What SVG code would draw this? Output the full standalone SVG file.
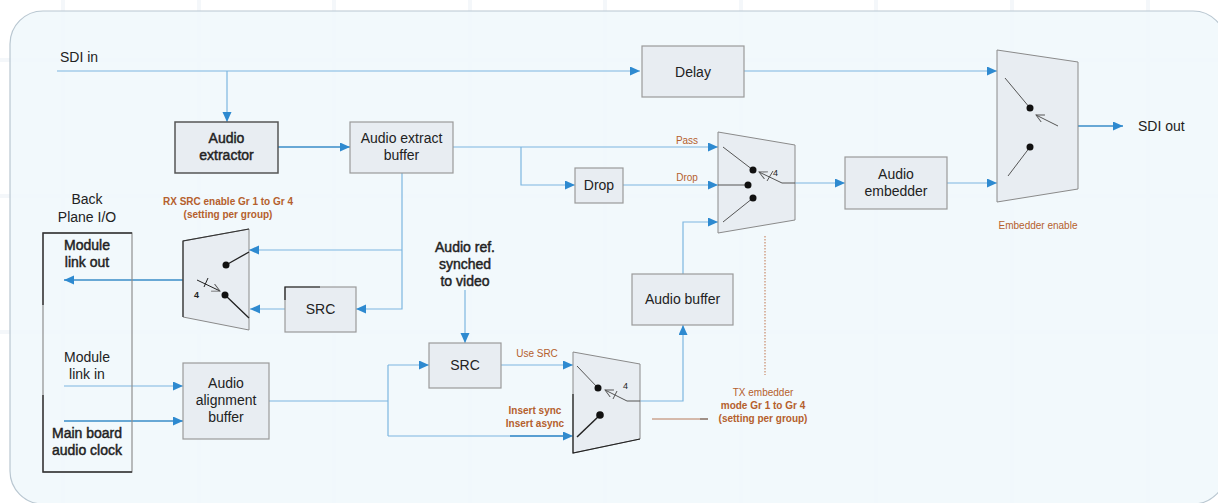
<svg xmlns="http://www.w3.org/2000/svg" width="1218" height="503" viewBox="0 0 1218 503">
<style>
text{font-family:"Liberation Sans",Arial,sans-serif;fill:#222}
.t{font-size:14px;text-anchor:middle}
.b{font-weight:bold}
.sb{stroke:#222;stroke-width:0.45}
.o{font-size:10px;fill:#b5602d;text-anchor:middle}
.box{fill:#e8edf2;stroke:#9a9a9a;stroke-width:1.2}
.mux{fill:#e8edf2;stroke:#8a8a8a;stroke-width:1}
.ln{fill:none;stroke:#7db6df;stroke-width:1.2}
.dk{fill:none;stroke:#3a8cc8;stroke-width:1.6}
.sw{fill:none;stroke:#555;stroke-width:1}
.swd{fill:none;stroke:#222;stroke-width:1.5}
.dot{fill:#111}
.grid{stroke:#e2ebf1;stroke-width:4;opacity:.35}
</style>
<defs>
<marker id="ar" markerWidth="11" markerHeight="10" refX="10" refY="4.5" orient="auto" markerUnits="userSpaceOnUse">
<path d="M0,0 L10,4.5 L0,9 z" fill="#2e8ad0"/>
</marker>
<marker id="op" markerWidth="10" markerHeight="10" refX="8" refY="4" orient="auto" markerUnits="userSpaceOnUse">
<path d="M0,0 L8,4 L0,8" fill="none" stroke="#555" stroke-width="0.9"/>
</marker>
</defs>
<rect width="1218" height="503" fill="#ffffff"/>
<g id="grid">
<path class="grid" d="M63,0V503M199,0V503M334,0V503M470,0V503M605,0V503M741,0V503M876,0V503M1012,0V503M1148,0V503M0,60H1218M0,196H1218M0,332H1218"/>
</g>
<rect id="frame" x="10" y="11" width="1216" height="493" rx="33" ry="33" fill="#f0f8fc" fill-opacity="0.88" stroke="#b9c7d1" stroke-width="1.2"/>

<g id="connectors">
<path class="ln" d="M57,71H640" marker-end="url(#ar)"/>
<path class="ln" d="M227,71V122" marker-end="url(#ar)"/>
<path class="dk" d="M278,147H350" marker-end="url(#ar)"/>
<path class="ln" d="M744,71H997" marker-end="url(#ar)"/>
<path class="ln" d="M453,147H718" marker-end="url(#ar)"/>
<path class="ln" d="M521,147V185H575" marker-end="url(#ar)"/>
<path class="ln" d="M623,185H718" marker-end="url(#ar)"/>
<path class="ln" d="M683,274V222H718" marker-end="url(#ar)"/>
<path class="ln" d="M640,401H683V325" marker-end="url(#ar)"/>
<path class="ln" d="M795,183H845" marker-end="url(#ar)"/>
<path class="ln" d="M947,183H997" marker-end="url(#ar)"/>
<path class="dk" d="M1058,126H1123" marker-end="url(#ar)"/>
<path class="ln" d="M402,173V309H356" marker-end="url(#ar)"/>
<path class="ln" d="M402,250H249" marker-end="url(#ar)"/>
<path class="ln" d="M285,309H250" marker-end="url(#ar)"/>
<path class="dk" d="M197,280H64" marker-end="url(#ar)"/>
<path class="ln" d="M64,386H183" marker-end="url(#ar)"/>
<path class="dk" d="M64,421H183" marker-end="url(#ar)"/>
<path class="ln" d="M269,401H388M388,365V436"/>
<path class="ln" d="M388,365H429" marker-end="url(#ar)"/>
<path class="ln" d="M388,436H573" marker-end="url(#ar)"/>
<path class="dk" d="M510,436H571"/>
<path class="ln" d="M465,290V343" marker-end="url(#ar)"/>
<path class="ln" d="M501,365H573" marker-end="url(#ar)"/>
<path d="M765,236V375" fill="none" stroke="#c98a6a" stroke-width="1.2" stroke-dasharray="1.5,1.5"/>
<path d="M652,419H700" fill="none" stroke="#b87a5a" stroke-width="1"/>
<path d="M700,419H708" fill="none" stroke="#6a4a3a" stroke-width="1.2"/>
</g>

<g id="sdi-in"><text x="60" y="62" style="font-size:14px">SDI in</text></g>
<g id="sdi-out"><text x="1138" y="131" style="font-size:14px">SDI out</text></g>

<g id="audio-extractor">
<rect class="box" x="175" y="122" width="103" height="51" style="stroke:#555;stroke-width:1.5"/>
<text class="t sb" x="226.5" y="143">Audio</text>
<text class="t sb" x="226.5" y="160">extractor</text>
</g>

<g id="audio-extract-buffer">
<rect class="box" x="350" y="122" width="103" height="51"/>
<text class="t" x="401.5" y="143">Audio extract</text>
<text class="t" x="401.5" y="160">buffer</text>
</g>

<g id="delay">
<rect class="box" x="642" y="46" width="102" height="51"/>
<text class="t" x="693" y="77">Delay</text>
</g>

<g id="drop">
<rect class="box" x="575" y="168" width="48" height="35"/>
<text class="t" x="599" y="190">Drop</text>
</g>

<g id="pass-drop-mux">
<polygon class="mux" points="718,132 795,145 795,220 718,233"/>
<path class="sw" d="M723,147L753,170M718,185H748M723,222L753,198"/>
<circle class="dot" cx="753" cy="170" r="3.5"/>
<circle class="dot" cx="748" cy="185" r="3.5"/>
<circle class="dot" cx="753" cy="198" r="3.5"/>
<path class="sw" d="M795,183H782L759,172" marker-end="url(#op)"/>
<path class="sw" d="M767,181L773,171"/>
<text x="773" y="176" style="font-size:9px">4</text>
<text class="o" x="687" y="144">Pass</text>
<text class="o" x="687" y="181">Drop</text>
</g>

<g id="audio-embedder">
<rect class="box" x="845" y="157" width="102" height="52"/>
<text class="t" x="896" y="179">Audio</text>
<text class="t" x="896" y="196">embedder</text>
</g>

<g id="embedder-mux">
<polygon class="mux" points="997,50 1078,62 1078,189 997,202"/>
<path class="sw" d="M1005,78L1030,108M1008,176L1030,147"/>
<circle class="dot" cx="1030" cy="108" r="3.5"/>
<circle class="dot" cx="1030" cy="147" r="3.5"/>
<path class="sw" d="M1058,126L1036,115" marker-end="url(#op)"/>
<text class="o" x="1038" y="229">Embedder enable</text>
</g>

<g id="audio-buffer">
<rect class="box" x="632" y="274" width="101" height="51"/>
<text class="t" x="682.5" y="304">Audio buffer</text>
</g>

<g id="tx-label">
<text class="o" x="763" y="396">TX embedder</text>
<text class="o b" x="763" y="409">mode Gr 1 to Gr 4</text>
<text class="o b" x="763" y="422">(setting per group)</text>
</g>

<g id="audio-ref">
<text class="t sb" x="465" y="252">Audio ref.</text>
<text class="t sb" x="465" y="269">synched</text>
<text class="t sb" x="465" y="286">to video</text>
</g>

<g id="src-lower">
<rect class="box" x="429" y="343" width="72" height="45"/>
<text class="t" x="465" y="370">SRC</text>
<text class="o" x="537" y="357">Use SRC</text>
</g>

<g id="insert-mux">
<polygon class="mux" points="573,352 640,364 640,439 573,453"/>
<path d="M573,394V453L640,439" fill="none" stroke="#222" stroke-width="1.2"/>
<path class="sw" d="M577,366L598,388"/>
<path class="swd" d="M577,437L600,415"/>
<circle class="dot" cx="598" cy="388" r="3.5"/>
<circle class="dot" cx="600" cy="415" r="3.8"/>
<path class="sw" d="M640,401H627L605,390" marker-end="url(#op)"/>
<path class="sw" d="M613,399L617,391"/>
<text x="623" y="389" style="font-size:9px">4</text>
<text class="o b" x="535" y="414">Insert sync</text>
<text class="o b" x="535" y="427">Insert async</text>
</g>

<g id="audio-alignment-buffer">
<rect class="box" x="183" y="363" width="86" height="76"/>
<text class="t" x="226" y="388">Audio</text>
<text class="t" x="226" y="405">alignment</text>
<text class="t" x="226" y="422">buffer</text>
</g>

<g id="backplane">
<text class="t" x="87" y="204">Back</text>
<text class="t" x="87" y="222">Plane I/O</text>
<rect x="43" y="233" width="89" height="239" fill="none" stroke="#8f8f8f" stroke-width="1.2"/>
<path d="M43,305V233H132M43,395V472H132" fill="none" stroke="#333" stroke-width="1.4"/>
<text class="t sb" x="87" y="250">Module</text>
<text class="t sb" x="87" y="267">link out</text>
<text class="t" x="87" y="362">Module</text>
<text class="t" x="87" y="379">link in</text>
<text class="t sb" x="87" y="438">Main board</text>
<text class="t sb" x="87" y="455">audio clock</text>
</g>

<g id="rx-src-mux">
<polygon class="mux" points="183,241 249,229 249,330 183,317"/>
<path d="M183,317V241L249,229" fill="none" stroke="#333" stroke-width="1.2"/>
<path class="swd" d="M249,252L226,265M225,295L249,318" style="stroke-width:1.3"/>
<circle class="dot" cx="226" cy="265" r="3.5"/>
<circle class="dot" cx="225" cy="295" r="3.5"/>
<path d="M197,280L220,291" fill="none" stroke="#222" stroke-width="1" marker-end="url(#op)"/>
<path d="M204,287L208,278" fill="none" stroke="#222" stroke-width="1"/>
<text class="b" x="194" y="298" style="font-size:9px">4</text>
<text class="o b" x="228" y="205">RX SRC enable Gr 1 to Gr 4</text>
<text class="o b" x="228" y="218">(setting per group)</text>
</g>

<g id="src-upper">
<rect class="box" x="285" y="287" width="71" height="45"/>
<path d="M285,300V287H320" fill="none" stroke="#222" stroke-width="1.2"/>
<text class="t" x="320.5" y="314">SRC</text>
</g>
</svg>
